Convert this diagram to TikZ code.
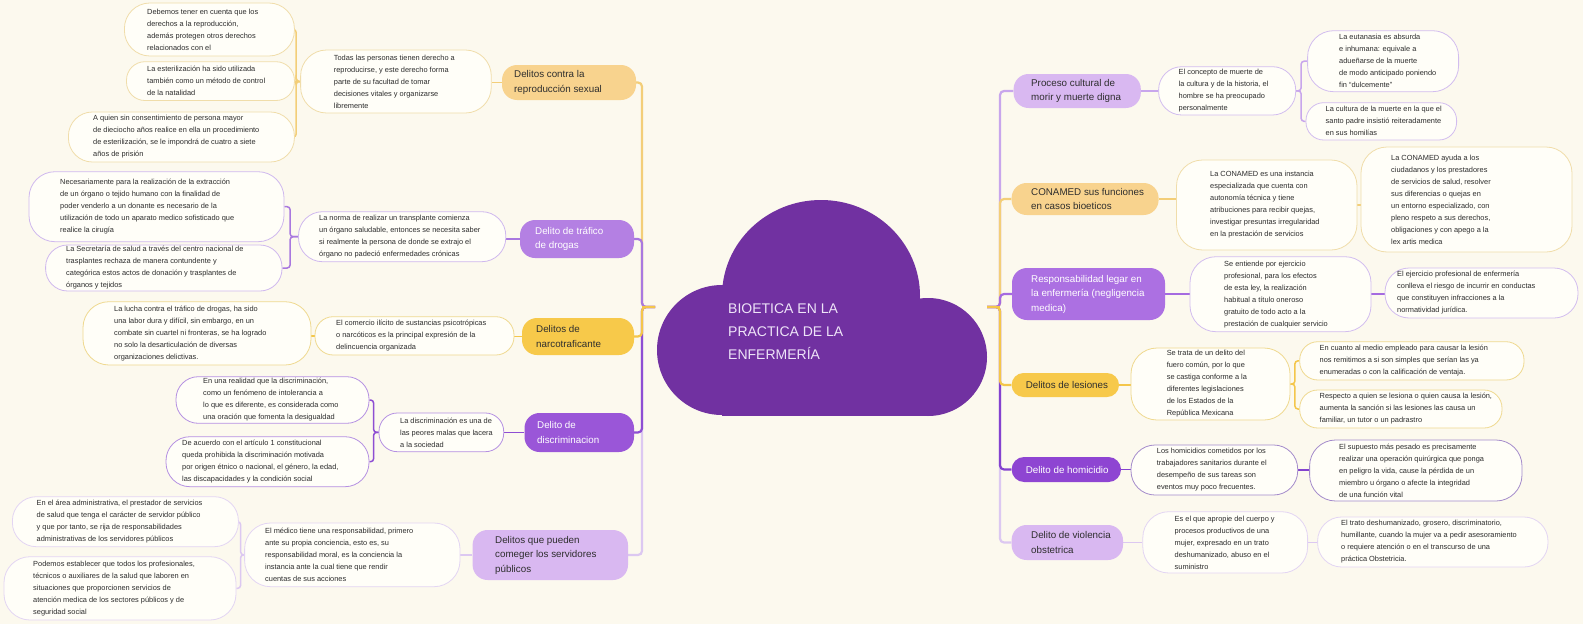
\documentclass[tikz,border=0pt]{standalone}
\usepackage{fontspec}
\setmainfont{Liberation Sans}
\pgfdeclarelayer{back}
\pgfdeclarelayer{lines}
\pgfsetlayers{back,lines,main}
\definecolor{bg}{HTML}{FCF9EE}
\definecolor{leaffill}{HTML}{FFFEF8}
\definecolor{txt}{HTML}{2C2C2C}
\definecolor{txtdark}{HTML}{2E2E2E}
\definecolor{cOrange}{HTML}{F8D38E}
\definecolor{cYel}{HTML}{F7C94A}
\definecolor{cPurB}{HTML}{B480E3}
\definecolor{cPurD}{HTML}{9A56D8}
\definecolor{cLil}{HTML}{D9B8F1}
\definecolor{cPurH}{HTML}{AC70E2}
\definecolor{cPurJ}{HTML}{8E45D2}
\definecolor{cCloud}{HTML}{7131A1}
\definecolor{cCloudTxt}{HTML}{EEE4F8}
\definecolor{lA}{HTML}{F3CE78}
\definecolor{lC}{HTML}{F4C64A}
\definecolor{lB}{HTML}{A978DF}
\definecolor{lD}{HTML}{8E4ED3}
\definecolor{lE}{HTML}{DCC8F1}
\definecolor{lF}{HTML}{C8A6EC}
\definecolor{lH}{HTML}{A56BE0}
\definecolor{lJ}{HTML}{8442CF}
\definecolor{bA}{HTML}{F0DDAA}
\definecolor{bC}{HTML}{EFD98F}
\definecolor{bB}{HTML}{CFB8EE}
\definecolor{bD}{HTML}{B590E2}
\definecolor{bE}{HTML}{E3D5F3}
\definecolor{bF}{HTML}{D2BDEF}
\definecolor{bJ}{HTML}{A48BCB}
\newcommand\leafbox[8]{%
  \pgfmathsetmacro\rr{min(26,((#5)-(#3))/2-1)}%
  \node[leafbase,#7,rounded corners=\rr pt,minimum width={(#4)-(#2)},minimum height={(#5)-(#3)}] (#1) at ({((#2)+(#4))/2},{((#3)+(#5))/2}) {};
  \node[leaftext] (#1-t) at (#6,{((#3)+(#5))/2}) {#8};}
\newcommand\mainbox[9]{%
  \pgfmathsetmacro\rr{min(15,((#5)-(#3))/2)}%
  \node[mainbase,#7,rounded corners=\rr pt,minimum width={(#4)-(#2)},minimum height={(#5)-(#3)}] (#1) at ({((#2)+(#4))/2},{((#3)+(#5))/2}) {};
  \node[maintext,text=#8] (#1-t) at (#6,{((#3)+(#5))/2}) {#9};}
\begin{document}
\begin{tikzpicture}[x=1pt,y=-1pt,
  leafbase/.style={draw,fill=leaffill,line width=0.8pt,inner sep=0pt},
  leaftext/.style={anchor=west,align=left,inner sep=0pt,font=\fontsize{7.4}{12}\selectfont,text=txt},
  mainbase/.style={inner sep=0pt},
  maintext/.style={anchor=west,align=left,inner sep=0pt,font=\fontsize{9.8}{14.5}\selectfont},
  trunk/.style={line width=2.2pt,rounded corners=4pt},
  con/.style={line width=1.5pt,rounded corners=3pt}]
\begin{pgfonlayer}{back}
\fill[bg] (0,0) rectangle (1583,624);
\end{pgfonlayer}
\useasboundingbox (0,0) rectangle (1583,624);

% central cloud
\fill[cCloud] (821,296) ellipse [x radius=99pt, y radius=96pt];
\fill[cCloud] (722,350) circle [radius=65pt];
\fill[cCloud] (928,357) circle [radius=59pt];
\fill[cCloud] (722,296) rectangle (920,416);
\fill[cCloud] (722,357) rectangle (928,416);
\node[anchor=west,align=left,inner sep=0pt,font=\fontsize{14}{23}\selectfont,text=cCloudTxt] (title) at (728,332) {BIOETICA EN LA\\PRACTICA DE LA\\ENFERMERÍA};
\coordinate (CL) at (655,307);
\coordinate (TL) at (642,307);
\coordinate (CR) at (987,307);
\coordinate (TR) at (1000,307);

% ---------- left main topics
\mainbox{A}{502}{65}{636}{100}{514}{fill=cOrange}{txtdark}{Delitos contra la\\reproducción sexual}
\mainbox{B}{520}{220}{634}{258}{535}{fill=cPurB}{white}{Delito de tráfico\\de drogas}
\mainbox{C}{522}{318}{634}{355}{536}{fill=cYel}{txtdark}{Delitos de\\narcotraficante}
\mainbox{D}{524.5}{413}{634}{452}{537}{fill=cPurD}{white}{Delito de\\discriminacion}
\mainbox{E}{472.6}{530}{628}{580}{495}{fill=cLil}{txtdark}{Delitos que pueden\\comeger los servidores\\públicos}

% ---------- right main topics
\mainbox{F}{1013.6}{74}{1140.8}{108}{1031}{fill=cLil}{txtdark}{Proceso cultural de\\morir y muerte digna}
\mainbox{G}{1011.6}{183}{1158.6}{215}{1031}{fill=cOrange}{txtdark}{CONAMED sus funciones\\en casos bioeticos}
\mainbox{H}{1012}{268}{1165}{320}{1031}{fill=cPurH}{white}{Responsabilidad legar en\\la enfermería (negligencia\\medica)}
\mainbox{I}{1011.6}{373}{1119}{397}{1025.6}{fill=cYel}{txtdark}{Delitos de lesiones}
\mainbox{J}{1011.6}{457}{1121}{482}{1025.6}{fill=cPurJ}{white}{Delito de homicidio}
\mainbox{K}{1011.6}{525}{1123}{560}{1031}{fill=cLil}{txtdark}{Delito de violencia\\obstetrica}

% ---------- left leaves
\leafbox{A1}{300.6}{50}{491.3}{113}{333.7}{draw=bA}{Todas las personas tienen derecho a\\reproducirse, y este derecho forma\\parte de su facultad de tomar\\decisiones vitales y organizarse\\libremente}
\leafbox{A1a}{124.4}{3}{294.4}{56}{147}{draw=bA}{Debemos tener en cuenta que los\\derechos a la reproducción,\\además protegen otros derechos\\relacionados con el}
\leafbox{A1b}{126.5}{61.7}{294.4}{100.5}{147}{draw=bA}{La esterilización ha sido utilizada\\también como un método de control\\de la natalidad}
\leafbox{A1c}{68.4}{112}{294.4}{162}{93}{draw=bA}{A quien sin consentimiento de persona mayor\\de dieciocho años realice en ella un procedimiento\\de esterilización, se le impondrá de cuatro a siete\\años de prisión}

\leafbox{B1}{298.5}{211.7}{505.8}{261.7}{319}{draw=bB}{La norma de realizar un transplante comienza\\un órgano saludable, entonces se necesita saber\\si realmente la persona de donde se extrajo el\\órgano no padeció enfermedades crónicas}
\leafbox{B1a}{29}{171.7}{284}{241.7}{60}{draw=bB}{Necesariamente para la realización de la extracción\\de un órgano o tejido humano con la finalidad de\\poder venderlo a un donante es necesario  de la\\utilización de todo un aparato medico sofisticado que\\realice la cirugía}
\leafbox{B1b}{45.6}{245}{282}{291}{66}{draw=bB}{La Secretaría de salud a través del centro nacional de\\trasplantes rechaza de manera contundente y\\categórica estos actos de donación  y trasplantes de\\órganos y tejidos}

\leafbox{C1}{315}{316.7}{514}{355}{336}{draw=bC}{El comercio ilícito de sustancias psicotrópicas\\o narcóticos es la principal expresión de la\\delincuencia organizada}
\leafbox{C1a}{83}{301.7}{311}{365}{114}{draw=bC}{La lucha contra el tráfico de drogas, ha sido\\una labor dura y difícil, sin embargo, en un\\combate sin cuartel ni fronteras, se ha logrado\\no solo la  desarticulación de diversas\\organizaciones delictivas.}

\leafbox{D1}{379}{413}{503.7}{451.7}{400}{draw=bD}{La discriminación es una de\\las peores malas que lacera\\a la sociedad}
\leafbox{D1a}{176}{376.7}{369}{423.3}{203}{draw=bD}{En una realidad que la discriminación,\\como un fenómeno de intolerancia a\\lo que es diferente, es considerada como\\una oración que fomenta la desigualdad}
\leafbox{D1b}{166}{436.7}{369}{486.7}{182}{draw=bD}{De acuerdo con el artículo 1 constitucional\\queda prohibida la discriminación motivada\\por origen étnico o nacional, el género, la edad,\\las discapacidades y la condición social}

\leafbox{E1}{244.6}{523}{460}{586.7}{265}{draw=bE}{El médico tiene una responsabilidad, primero\\ante su propia conciencia, esto es, su\\responsabilidad moral, es la conciencia la\\instancia ante la cual tiene que rendir\\cuentas de sus acciones}
\leafbox{E1a}{12.4}{496.7}{238.4}{546.7}{36.5}{draw=bE}{En el área administrativa, el prestador de servicios\\de salud que tenga el carácter de servidor público\\y que por tanto, se rija de responsabilidades\\administrativas de los servidores públicos}
\leafbox{E1b}{4}{556.7}{236}{620}{33}{draw=bE}{Podemos establecer que todos los profesionales,\\técnicos o auxiliares de la salud que laboren en\\situaciones que proporcionen servicios de\\atención medica de los sectores públicos y de\\seguridad social}

% ---------- right leaves
\leafbox{F1}{1158.6}{66.7}{1295.7}{115}{1178.5}{draw=bF}{El concepto de muerte de\\la cultura y de la historia, el\\hombre se ha preocupado\\personalmente}
\leafbox{F1a}{1307.6}{30.7}{1458.6}{91.7}{1339}{draw=bF}{La eutanasia es absurda\\e inhumana: equivale a\\adueñarse de la muerte\\de modo anticipado poniendo\\fin “dulcemente”}
\leafbox{F1b}{1306}{102.7}{1456.6}{140}{1325.5}{draw=bF}{La cultura de la muerte en la que el\\santo padre insistió reiteradamente\\en sus homilías}

\leafbox{G1}{1176.5}{160}{1357}{250}{1210}{draw=bA}{La CONAMED es una instancia\\especializada que cuenta con\\autonomía técnica y tiene\\atribuciones para recibir quejas,\\investigar presuntas irregularidad\\en la prestación de servicios}
\leafbox{G1a}{1361}{147}{1572}{252}{1391}{draw=bA}{La CONAMED ayuda a los\\ciudadanos y los prestadores\\de servicios de salud, resolver\\sus diferencias o quejas en\\un entorno especializado, con\\pleno respeto a sus derechos,\\obligaciones y con apego a la\\lex artis medica}

\leafbox{H1}{1190}{256.7}{1371}{331.7}{1224}{draw=bF}{Se entiende por ejercicio\\profesional, para los efectos\\de esta ley, la realización\\habitual a título oneroso\\gratuito de todo acto a la\\prestación de cualquier servicio}
\leafbox{H1a}{1385}{268}{1578}{318}{1397}{draw=bF}{El ejercicio profesional de enfermería\\conlleva el riesgo de incurrir en conductas\\que constituyen infracciones a la\\normatividad jurídica.}

\leafbox{I1}{1131}{348}{1290}{420}{1166.6}{draw=bC}{Se trata de un delito del\\fuero común, por lo que\\se castiga conforme a la\\diferentes legislaciones\\de los Estados de la\\República Mexicana}
\leafbox{I1a}{1299.7}{341.7}{1524}{380}{1319.5}{draw=bC}{En cuanto al medio empleado para causar la lesión\\nos remitimos a si son simples que serían las ya\\enumeradas o con la calificación de ventaja.}
\leafbox{I1b}{1299.7}{390}{1502}{428}{1319.5}{draw=bC}{Respecto a quien se lesiona o quien causa la lesión,\\aumenta la sanción si las lesiones las causa un\\familiar, un tutor o un padrastro}

\leafbox{J1}{1131}{445}{1297.7}{495}{1156.7}{draw=bJ}{Los homicidios cometidos por los\\trabajadores sanitarios durante el\\desempeño de sus tareas son\\eventos muy poco frecuentes.}
\leafbox{J1a}{1309.6}{440}{1522}{501}{1339}{draw=bJ}{El supuesto más pesado es precisamente\\realizar una operación quirúrgica que ponga\\en peligro la vida, cause la pérdida de un\\miembro u órgano o afecte la integridad\\de una función vital}

\leafbox{K1}{1142.8}{511.7}{1307.6}{573}{1174.5}{draw=bE}{Es el que apropie del cuerpo y\\procesos productivos de una\\mujer, expresado en un trato\\deshumanizado, abuso en el\\suministro}
\leafbox{K1a}{1317.6}{517}{1548}{567}{1341}{draw=bE}{El trato deshumanizado, grosero, discriminatorio,\\humillante, cuando la mujer va a pedir asesoramiento\\o requiere atención  o en el transcurso de una\\práctica Obstetricia.}

% ---------- connectors
\begin{pgfonlayer}{lines}
% left trunk (farthest first, nearest on top)
\draw[trunk,lA] (CL) -- (TL) |- (A.east);
\draw[trunk,lB] (CL) -- (TL) |- (B.east);
\draw[trunk,lE] (CL) -- (TL) |- (E.east);
\draw[trunk,lD] (CL) -- (TL) |- (D.east);
\draw[trunk,lC] (CL) -- (TL) |- (C.east);
\draw[trunk,lC] (CL) -- (TL);
% right trunk
\draw[trunk,lF] (CR) -- (TR) |- (F.west);
\draw[trunk,lA] (CR) -- (TR) |- (G.west);
\draw[trunk,lH] (CR) -- (TR) |- (H.west);
\draw[trunk,lE] (CR) -- (TR) |- (K.west);
\draw[trunk,lJ] (CR) -- (TR) |- (J.west);
\draw[trunk,lC] (CR) -- (TR) |- (I.west);
\draw[trunk,lC] (CR) -- (TR);
% level 2
\draw[con,lA] (A.west) -- (A.west -| A1.east);
\draw[con,lB] (B.west) -- (B.west -| B1.east);
\draw[con,lC] (C.west) -- (C.west -| C1.east);
\draw[con,lD] (D.west) -- (D.west -| D1.east);
\draw[con,lE] (E.west) -- (E.west -| E1.east);
\draw[con,lF] (F.east) -- (F.east -| F1.west);
\draw[con,lA] (G.east) -- (G.east -| G1.west);
\draw[con,lH] (H.east) -- (H.east -| H1.west);
\draw[con,lC] (I.east) -- (I.east -| I1.west);
\draw[con,lJ] (J.east) -- (J.east -| J1.west);
\draw[con,lE] (K.east) -- (K.east -| K1.west);
% level 3
\foreach \c in {A1a,A1b,A1c} \draw[con,lA] (A1.west) -- ++(-4,0) |- (\c.east);
\foreach \c in {B1a,B1b} \draw[con,lB] (B1.west) -- ++(-8,0) |- (\c.east);
\draw[con,lC] (C1.west) -- (C1.west -| C1a.east);
\foreach \c in {D1a,D1b} \draw[con,lD] (D1.west) -- ++(-5,0) |- (\c.east);
\foreach \c in {E1a,E1b} \draw[con,lE] (E1.west) -- ++(-3.6,0) |- (\c.east);
\foreach \c in {F1a,F1b} \draw[con,lF] (F1.east) -- ++(5,0) |- (\c.west);
\draw[con,lA] (G1.east) -- (G1.east -| G1a.west);
\draw[con,lH] (H1.east) -- (H1.east -| H1a.west);
\foreach \c in {I1a,I1b} \draw[con,lC] (I1.east) -- ++(4.5,0) |- (\c.west);
\draw[con,lJ] (J1.east) -- (J1.east -| J1a.west);
\draw[con,lE] (K1.east) -- (K1.east -| K1a.west);
\end{pgfonlayer}
\end{tikzpicture}
\end{document}
